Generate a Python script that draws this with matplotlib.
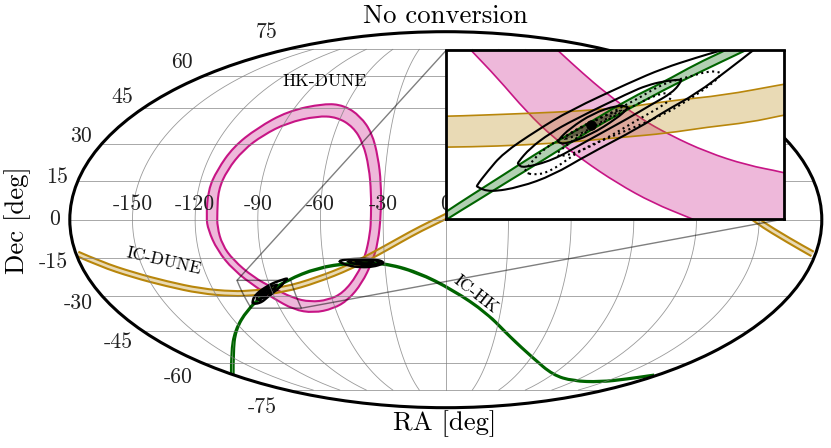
import numpy as np
import matplotlib
matplotlib.use('Agg')
import matplotlib.pyplot as plt
from matplotlib.patches import Rectangle, ConnectionPatch, PathPatch
from matplotlib.path import Path
from matplotlib.transforms import Affine2D

plt.rcParams['font.family'] = ['cmr10', 'DejaVu Serif']
plt.rcParams['axes.unicode_minus'] = False
plt.rcParams['axes.formatter.use_mathtext'] = True

# tick labels
ra_labels = ['-150', '-120', '-90', '-60', '-30', '0', '30', '60', '90', '120', '150']
dec_labels = ['-75', '-60', '-45', '-30', '-15', '0', '15', '30', '45', '60', '75']

# HK-DUNE band, RA and Dec in degrees
ra_pink_out = [-74.0,-61.4,-49.0,-39.8,-34.4,-31.6,-31.0,-32.7,-36.2,-42.6,-51.7,-61.1,-72.9,-83.0,-90.9,-96.9,-105.6,-110.9,-113.9,-114.7,-115.2,-113.5,-110.3,-103.4,-92.7,-74.0]
dec_pink_out = [47.2,46.4,41.6,34.4,24.6,14.3,2.6,-9.1,-16.5,-24.9,-31.8,-35.4,-37.2,-35.8,-31.0,-26.9,-19.7,-11.8,-4.0,1.0,11.6,19.4,28.7,36.5,43.8,47.2]
ra_pink_in = [-73.8,-62.1,-51.0,-43.4,-38.3,-36.1,-35.8,-36.3,-39.4,-44.4,-53.4,-62.3,-72.2,-80.4,-88.7,-96.8,-104.2,-108.0,-109.5,-109.5,-110.3,-108.5,-104.4,-97.9,-88.6,-73.8]
dec_pink_in = [41.7,41.2,37.0,30.3,20.6,10.4,1.0,-5.2,-14.5,-21.7,-28.9,-31.8,-32.6,-31.0,-26.9,-22.5,-15.7,-9.8,-2.8,2.8,11.6,19.4,27.5,33.6,38.7,41.7]

# IC-DUNE band
ra_gold_a = [-180.0,-171.1,-157.5,-142.9,-128.0,-111.5,-100.6,-84.2,-64.9,-47.0,-32.9,-21.5,-11.8,1.1,21.9,47.4,79.4,108.2,127.6,148.2,165.3,178.4]
dec_gold_a = [-14.2,-18.2,-22.6,-26.2,-29.1,-30.3,-29.9,-28.7,-24.6,-19.3,-13.8,-8.7,-4.4,0.6,9.2,20.5,27.3,24.5,12.7,-1.3,-9.1,-14.2]
ra_gold_b = [-178.5,-169.3,-155.6,-140.9,-126.2,-110.1,-99.7,-83.7,-65.1,-47.7,-33.9,-22.6,-12.9,0.1,20.8,46.8,80.1,110.0,129.5,149.5,166.1,178.8]
dec_gold_b = [-12.5,-16.4,-20.7,-24.3,-27.1,-28.3,-27.9,-26.7,-22.7,-17.6,-12.1,-7.1,-2.8,2.3,10.8,22.3,29.2,26.3,14.3,0.3,-7.5,-12.5]

# IC-HK band
ra_green_a = [-177.8,-144.1,-124.3,-108.3,-95.3,-80.2,-63.7,-47.1,-30.9,-14.5,3.6,22.5,39.1,61.6,91.4,119.6,147.8,164.8,178.2]
dec_green_a = [-65.7,-55.1,-44.7,-36.1,-29.9,-23.9,-19.1,-17.1,-17.1,-20.7,-27.9,-37.4,-47.8,-57.7,-66.5,-69.9,-70.5,-68.8,-66.6]
ra_green_b = [-180.0,-145.8,-124.7,-108.5,-95.5,-80.2,-63.8,-47.0,-30.8,-14.2,3.9,22.9,39.5,61.6,90.6,117.5,144.8,161.8,175.9]
dec_green_b = [-65.7,-55.0,-44.5,-35.8,-29.6,-23.5,-18.6,-16.6,-16.6,-20.2,-27.5,-37.1,-47.5,-57.3,-66.0,-69.3,-69.8,-68.2,-66.0]

# same bands read again at the inset scale
ra_in_pink_up = [-97.63,-96.43,-94.58,-92.80,-89.99,-87.57,-84.60,-81.38,-78.48,-77.11]
dec_in_pink_up = [-22.99,-23.93,-25.35,-26.63,-28.39,-29.53,-30.68,-31.56,-32.03,-32.37]
ra_in_pink_lo = [-104.47,-103.43,-101.50,-99.08,-96.99,-94.58,-91.84,-88.94,-85.96,-82.75,-77.11]
dec_in_pink_lo = [-22.99,-23.93,-25.62,-27.98,-29.67,-31.22,-32.77,-34.12,-35.13,-36.28,-37.29]
ra_in_gold_up = [-106.40,-105.52,-102.94,-98.92,-95.14,-91.03,-87.33,-83.31,-78.48,-77.51]
dec_in_gold_up = [-28.25,-28.25,-28.18,-28.05,-27.91,-27.64,-27.17,-26.84,-26.09,-25.96]
ra_in_gold_lo = [-106.40,-105.52,-101.58,-96.75,-94.01,-91.36,-87.82,-84.60,-81.14,-78.48,-77.51]
dec_in_gold_lo = [-30.34,-30.34,-30.28,-30.07,-29.87,-29.67,-29.40,-28.99,-28.66,-28.18,-28.05]
ra_in_green_up = [-106.08,-105.52,-103.67,-101.01,-98.28,-96.67,-94.01,-90.79,-88.14,-85.40,-83.31,-81.94]
dec_in_green_up = [-35.00,-34.66,-33.65,-32.23,-30.75,-29.94,-28.66,-27.04,-25.96,-24.68,-23.87,-23.26]
ra_in_green_lo = [-106.08,-105.52,-103.02,-100.69,-97.79,-96.27,-93.61,-90.79,-88.14,-85.40,-81.70,-80.33]
dec_in_green_lo = [-35.54,-35.20,-33.92,-32.70,-31.22,-30.41,-28.99,-27.71,-26.50,-25.35,-23.87,-23.33]

# contours around the first source
ra_e_outer = [-103.11,-102.06,-99.64,-96.99,-94.25,-89.99,-88.14,-85.40,-82.75,-80.89,-79.93,-80.73,-82.34,-83.79,-85.40,-88.14,-90.79,-95.62,-98.28,-101.01,-102.30,-103.11,-103.11]
dec_e_outer = [-33.04,-33.38,-33.04,-32.23,-30.88,-28.99,-27.98,-26.70,-25.01,-23.80,-23.13,-23.13,-23.53,-23.87,-24.27,-25.01,-25.96,-27.85,-29.20,-30.75,-32.03,-32.91,-33.04]
ra_e_mid = [-99.81,-99.40,-96.99,-94.58,-90.79,-89.18,-87.33,-86.61,-86.77,-88.14,-89.42,-90.79,-95.38,-97.23,-98.84,-99.81,-99.81]
dec_e_mid = [-31.49,-31.76,-31.22,-30.07,-28.32,-27.51,-26.63,-25.82,-25.76,-25.89,-26.16,-26.63,-28.52,-29.40,-30.41,-31.36,-31.49]
ra_e_in = [-96.59,-96.02,-94.01,-91.84,-90.95,-91.03,-91.84,-93.77,-95.62,-96.59,-96.59]
dec_e_in = [-30.01,-30.14,-29.53,-28.39,-27.71,-27.58,-27.51,-28.05,-29.06,-29.87,-30.01]
ra_d_outer = [-99.24,-98.60,-97.23,-94.58,-92.40,-88.14,-86.13,-84.36,-83.39,-83.71,-84.60,-86.21,-88.14,-90.79,-96.43,-98.04,-99.24,-99.24]
dec_d_outer = [-32.03,-32.23,-32.03,-30.41,-29.67,-28.18,-27.17,-26.16,-25.42,-25.22,-25.22,-25.62,-26.03,-27.38,-29.74,-30.68,-31.89,-32.03]
ra_d_mid = [-96.83,-95.62,-93.21,-89.99,-87.82,-87.33,-88.14,-89.99,-92.40,-94.82,-96.43,-96.83]
dec_d_mid = [-30.95,-30.88,-30.01,-28.39,-27.38,-26.77,-26.63,-27.31,-28.39,-29.53,-30.55,-30.95]
ra_d_in = [-96.35,-95.62,-94.17,-92.24,-91.20,-92.40,-94.58,-96.35]
dec_d_in = [-29.80,-29.74,-29.20,-28.18,-27.71,-28.05,-28.86,-29.80]
ra_best = [-93.93]
dec_best = [-28.86]

# contours around the second source
ra_s2_outer = [-53,-48,-42,-36,-31,-30.5,-33,-39,-45,-50,-53]
dec_s2_outer = [-16.3,-18.0,-18.6,-18.4,-17.2,-16.6,-15.7,-15.2,-15.3,-15.6,-16.3]
ra_s2_mid = [-49,-44,-39,-34,-32,-35,-40,-45,-49]
dec_s2_mid = [-16.4,-17.4,-17.8,-17.4,-16.5,-15.7,-15.4,-15.7,-16.4]
ra_s2_in = [-45,-41,-37,-35,-38,-42,-45]
dec_s2_in = [-16.5,-17.1,-17.0,-16.4,-15.9,-15.9,-16.5]

# inset limits
ra_lim = [-105.6, -78.4]
dec_lim = [-35.2, -23.8]

PINK = 'mediumvioletred'
GOLD = 'darkgoldenrod'
GREEN = 'darkgreen'


def rad(v):
    return np.radians(v)


fig = plt.figure(figsize=(8.31, 4.48), dpi=100)
ax = fig.add_axes([69.4 / 831, 40.3 / 448, 752.8 / 831, 376 / 448], projection='mollweide')
ax.set_longitude_grid(30)
ax.set_latitude_grid(15)
ax.set_longitude_grid_ends(75)
ax.set_xticklabels(ra_labels, fontsize=15.7, color='#222222')
ax.set_yticklabels(dec_labels, fontsize=15.7, color='#222222')
for tick in ax.xaxis.get_major_ticks():
    tick.label1.set_transform(tick.label1.get_transform() + Affine2D().translate(0, 2))
for tick in ax.yaxis.get_major_ticks():
    tick.label1.set_transform(tick.label1.get_transform() + Affine2D().translate(-1.5, 0))
ax.grid(True, color='#808080', lw=0.6, alpha=0.8)
ax.spines['geo'].set_linewidth(2.2)

ins = fig.add_axes([446 / 831, 1 - 219 / 448, 338 / 831, 168.5 / 448], zorder=5)
ins.set_xlim(ra_lim)
ins.set_ylim(dec_lim)
ins.set_xticks([])
ins.set_yticks([])
for sp in ins.spines.values():
    sp.set_linewidth(2.0)

to_main = ax.transProjection + ax.transAffine


def project(r, d, panel):
    # axes coordinates of the points on either panel
    if panel is ax:
        return to_main.transform(np.c_[rad(np.array(r, float)), rad(np.array(d, float))])
    return ins.transAxes.inverted().transform(ins.transData.transform(np.c_[r, d]))


def curve(p, closed=False):
    # bezier pieces with the read points as control points
    mid = (p[:-1] + p[1:]) / 2
    if closed:
        verts = [mid[0]]
        codes = [Path.MOVETO]
        for i in range(1, len(p) - 1):
            verts += [p[i], mid[i]]
            codes += [Path.CURVE3, Path.CURVE3]
        verts += [p[0], mid[0]]
        codes += [Path.CURVE3, Path.CURVE3]
    else:
        verts = [p[0]]
        codes = [Path.MOVETO]
        for i in range(1, len(p) - 1):
            verts += [p[i], mid[i]]
            codes += [Path.CURVE3, Path.CURVE3]
        verts.append(p[-1])
        codes.append(Path.LINETO)
    return Path(verts, codes)


def add_curve(panel, r, d, color='k', lw=1.5, ls='-', closed=False, fill=None, alpha=None):
    path = curve(project(r, d, panel), closed)
    panel.add_patch(PathPatch(path, transform=panel.transAxes, fc=fill or 'none', ec=color, lw=lw, ls=ls, alpha=alpha))


def add_band(panel, r1, d1, r2, d2, color, lw, ring=False):
    p1 = project(r1, d1, panel)
    p2 = project(r2, d2, panel)[::-1]
    if ring:
        path = Path.make_compound_path(curve(p1, True), curve(p2, True))
    else:
        a, b = curve(p1), curve(p2)
        verts = np.r_[a.vertices, b.vertices]
        codes = np.r_[a.codes, b.codes]
        codes[len(a.codes)] = Path.LINETO
        path = Path(verts, codes)
    panel.add_patch(PathPatch(path, transform=panel.transAxes, fc=color, ec='none', lw=0, alpha=0.3))
    add_curve(panel, r1, d1, color, lw, closed=ring)
    add_curve(panel, r2, d2, color, lw, closed=ring)


add_band(ax, ra_pink_out, dec_pink_out, ra_pink_in, dec_pink_in, PINK, 1.5, ring=True)
add_band(ax, ra_gold_a, dec_gold_a, ra_gold_b, dec_gold_b, GOLD, 1.5)
add_band(ax, ra_green_a, dec_green_a, ra_green_b, dec_green_b, GREEN, 1.5)

add_band(ins, ra_in_pink_up, dec_in_pink_up, ra_in_pink_lo, dec_in_pink_lo, PINK, 1.2)
add_band(ins, ra_in_gold_up, dec_in_gold_up, ra_in_gold_lo, dec_in_gold_lo, GOLD, 1.2)
add_band(ins, ra_in_green_up, dec_in_green_up, ra_in_green_lo, dec_in_green_lo, GREEN, 1.5)

# contours on both panels
solid = [(ra_e_outer, dec_e_outer), (ra_e_mid, dec_e_mid), (ra_e_in, dec_e_in)]
dotted = [(ra_d_outer, dec_d_outer), (ra_d_mid, dec_d_mid), (ra_d_in, dec_d_in)]
for r, d in solid:
    add_curve(ins, r, d, lw=1.5, closed=True)
    add_curve(ax, r, d, lw=1.8, closed=True)
for r, d in dotted:
    add_curve(ins, r, d, lw=1.5, ls=':', closed=True)
    add_curve(ax, r, d, lw=1.8, ls=':', closed=True)
add_curve(ins, ra_d_in, dec_d_in, color='none', lw=0, closed=True, fill='k', alpha=0.35)
ins.plot(ra_best, dec_best, 'o', color='k', ms=6.5)
ax.plot(rad(np.array(ra_best)), rad(np.array(dec_best)), 'o', color='k', ms=2)
for r, d in [(ra_s2_outer, dec_s2_outer), (ra_s2_mid, dec_s2_mid), (ra_s2_in, dec_s2_in)]:
    add_curve(ax, r, d, lw=1.8, closed=True)

# box on the sky and the two lines to the inset
x0, x1 = rad(np.array(ra_lim))
y0, y1 = rad(np.array(dec_lim))
ax.add_patch(Rectangle((x0, y0), x1 - x0, y1 - y0, fc='none', ec='k', alpha=0.5, lw=1))
for xy_sky, xy_ins in [((x0, y1), (0, 1)), ((x1, y0), (1, 0))]:
    fig.add_artist(ConnectionPatch(xyA=xy_sky, coordsA=ax.transData, xyB=xy_ins, coordsB=ins.transAxes,
                                   color='k', alpha=0.5, lw=1))

fig.text(445 / 831, 1 - 16 / 448, 'No conversion', fontsize=19.2, ha='center', va='center')
fig.text(445 / 831, 1 - 424 / 448, 'RA [deg]', fontsize=19.2, ha='center', va='center')
fig.text(18 / 831, 1 - 220 / 448, 'Dec [deg]', fontsize=19.2, ha='center', va='center', rotation=90)
fig.text(325 / 831, 1 - 81 / 448, 'HK-DUNE', fontsize=12.6, ha='center', va='center')
fig.text(164 / 831, 1 - 261 / 448, 'IC-DUNE', fontsize=12.6, ha='center', va='center', rotation=-13)
fig.text(476 / 831, 1 - 294 / 448, 'IC-HK', fontsize=12.6, ha='center', va='center', rotation=-38)

fig.savefig('out.png', dpi=100)
